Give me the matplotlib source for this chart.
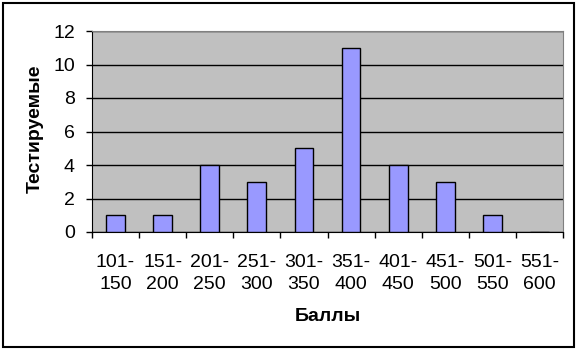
import numpy as np
import matplotlib
matplotlib.use("Agg")
import matplotlib.pyplot as plt
from matplotlib.patches import Rectangle

# score ranges and number of test takers
ranges = ["101-\n150", "151-\n200", "201-\n250", "251-\n300", "301-\n350",
          "351-\n400", "401-\n450", "451-\n500", "501-\n550", "551-\n600"]
counts = [1, 1, 4, 3, 5, 11, 4, 3, 1, 0]
yticks = [0, 2, 4, 6, 8, 10, 12]

plt.rcParams['font.family'] = ['Liberation Sans', 'DejaVu Sans']

fig = plt.figure(figsize=(5.79, 3.52), dpi=100)
fig.patch.set_facecolor('white')
# outer chart border
fig.patches.append(Rectangle((3/579, 5/352), 571/579, 344/352, transform=fig.transFigure,
                             fill=False, edgecolor='black', linewidth=1.5))

ax = fig.add_axes([92/579, 1-232/352, 471/579, 201/352])
ax.set_facecolor('#C0C0C0')

x = np.arange(len(counts))
ax.bar(x, counts, width=0.4, color='#9999FF', edgecolor='black', linewidth=1, zorder=3)

ax.set_xlim(-0.5, len(counts) - 0.5)
ax.set_ylim(0, 12)
ax.set_yticks(yticks)
ax.yaxis.grid(True, color='black', linewidth=1, zorder=1)
ax.set_axisbelow(True)

# category labels between boundary ticks
ax.set_xticks(x)
ax.set_xticklabels(ranges, fontsize=14, linespacing=1.45)
ax.tick_params(axis='x', which='major', length=0, pad=15.5)
ax.set_xticks(np.arange(len(counts) + 1) - 0.5, minor=True)
ax.tick_params(axis='x', which='minor', length=4.3, width=1, direction='out')
ax.tick_params(axis='y', length=4.3, width=1, direction='out', labelsize=14, pad=8)

for side in ['top', 'right']:
    ax.spines[side].set_color('#808080')
ax.spines['left'].set_color('black')
ax.spines['bottom'].set_color('black')

ax.set_xlabel("Баллы", fontsize=14, fontweight='bold')
ax.xaxis.set_label_coords(0.5, -0.38)
ax.set_ylabel("Тестируемые", fontsize=14, fontweight='bold')
ax.yaxis.set_label_coords(-0.102, 0.512)

fig.savefig("out.png", dpi=100)
